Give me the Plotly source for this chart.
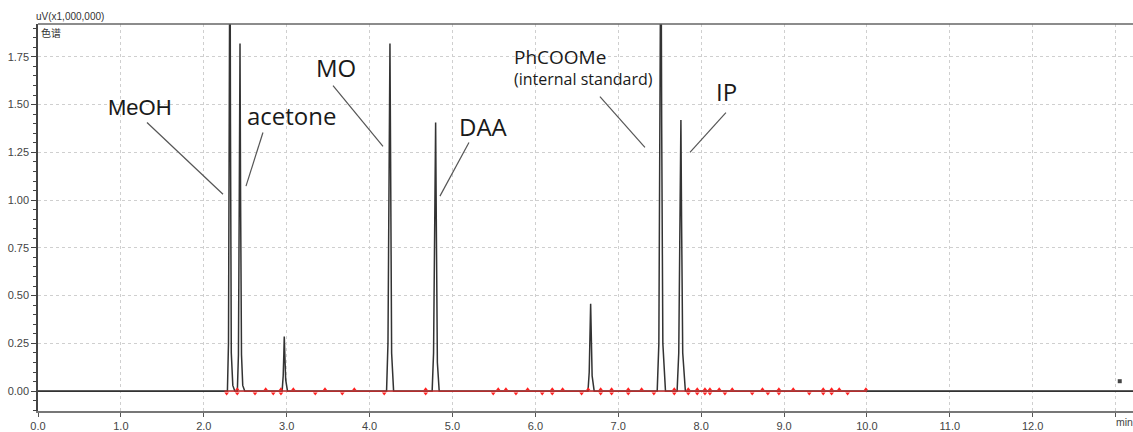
import plotly.graph_objects as go

# ---- data ----
time_min = [0.0,
            2.285, 2.298, 2.308, 2.316, 2.322, 2.332, 2.350, 2.375,
            2.405, 2.418, 2.428, 2.437, 2.444, 2.455, 2.470, 2.495,
            2.945, 2.958, 2.966, 2.971, 2.977, 2.988, 3.010,
            4.205, 4.222, 4.236, 4.246, 4.254, 4.266, 4.290,
            4.755, 4.772, 4.787, 4.797, 4.805, 4.818, 4.840,
            6.635, 6.650, 6.660, 6.667, 6.673, 6.685, 6.710,
            7.470, 7.490, 7.505, 7.515, 7.524, 7.538, 7.570,
            7.710, 7.730, 7.746, 7.756, 7.764, 7.778, 7.810,
            13.21]
signal = [0.0,
          0.0, 0.25, 1.5, 2.6, 1.4, 0.2, 0.03, 0.0,
          0.0, 0.19, 1.0, 1.82, 1.0, 0.19, 0.03, 0.0,
          0.0, 0.08, 0.2, 0.286, 0.2, 0.06, 0.0,
          0.0, 0.25, 1.2, 1.82, 1.2, 0.2, 0.0,
          0.0, 0.2, 0.9, 1.406, 0.9, 0.15, 0.0,
          0.0, 0.1, 0.35, 0.458, 0.33, 0.08, 0.0,
          0.0, 0.25, 1.4, 2.6, 1.4, 0.25, 0.0,
          0.0, 0.2, 0.9, 1.42, 0.9, 0.2, 0.0,
          0.0]

baseline_start = 2.25
baseline_end = 10.0

marks_below = [2.276, 2.404, 2.618, 2.838, 2.931, 3.345, 3.671, 4.177, 4.677,
               5.492, 5.766, 6.083, 6.204, 6.558, 6.788, 6.920, 7.121, 7.430,
               7.676, 7.845, 7.953, 8.046, 8.106, 8.287, 8.616, 8.805, 8.938,
               9.304, 9.473, 9.574, 9.767]
marks_above = [2.404, 2.747, 2.931, 3.080, 3.462, 3.816, 4.677, 5.552, 5.645,
               5.907, 6.204, 6.329, 6.638, 6.788, 6.920, 7.121, 7.282, 7.676,
               7.845, 7.953, 8.046, 8.106, 8.218, 8.375, 8.740, 8.938, 9.111,
               9.473, 9.574, 9.666, 9.988]

x_ticks = [0, 1, 2, 3, 4, 5, 6, 7, 8, 9, 10, 11, 12, 13]
x_ticktext = ["0.0", "1.0", "2.0", "3.0", "4.0", "5.0", "6.0", "7.0",
              "8.0", "9.0", "10.0", "11.0", "12.0", ""]

labels = ["MeOH", "acetone", "MO", "DAA", "IP"]
label_t = [1.23, 3.06, 3.59, 5.37, 8.30]
label_v = [1.484, 1.443, 1.693, 1.385, 1.568]
label_size = [22, 24, 24, 24, 24]

std_label_top = "PhCOOMe"
std_label_bottom = "(internal standard)"
std_label_t = 5.72
std_label_v = 1.695

leader_t0 = [1.315, 2.714, 3.559, 5.199, 6.779, 8.299]
leader_v0 = [1.406, 1.354, 1.599, 1.302, 1.542, 1.458]
leader_t1 = [2.232, 2.509, 4.162, 4.849, 7.322, 7.865]
leader_v1 = [1.031, 1.073, 1.281, 1.021, 1.276, 1.250]

fig = go.Figure()

fig.add_trace(go.Scatter(x=time_min, y=signal, mode="lines",
                         line=dict(color="#333", width=1.5),
                         hoverinfo="skip", showlegend=False))
fig.add_trace(go.Scatter(x=[baseline_start, baseline_end], y=[0, 0], mode="lines",
                         line=dict(color="#ff2a2a", width=1),
                         hoverinfo="skip", showlegend=False))
fig.add_trace(go.Scatter(x=marks_below, y=[-0.013] * len(marks_below), mode="markers",
                         marker=dict(symbol="triangle-down", size=4, color="#ff2020"),
                         hoverinfo="skip", showlegend=False))
fig.add_trace(go.Scatter(x=marks_above, y=[0.01] * len(marks_above), mode="markers",
                         marker=dict(symbol="triangle-up", size=4, color="#ff2020"),
                         hoverinfo="skip", showlegend=False))
fig.add_trace(go.Scatter(x=[13.05], y=[0.052], mode="markers",
                         marker=dict(symbol="square", size=4, color="#444"),
                         hoverinfo="skip", showlegend=False, cliponaxis=False))

for i in range(len(leader_t0)):
    fig.add_shape(type="line", x0=leader_t0[i], y0=leader_v0[i],
                  x1=leader_t1[i], y1=leader_v1[i],
                  line=dict(color="#555", width=1.2))

for i, txt in enumerate(labels):
    fam = "Liberation Sans" if txt == "MeOH" else "Open Sans"
    fig.add_annotation(x=label_t[i], y=label_v[i], text=txt, showarrow=False,
                       xanchor="center", yanchor="middle",
                       font=dict(family=fam, size=label_size[i], color="#1a1a1a"))

fig.add_annotation(x=std_label_t, y=std_label_v,
                   text='<span style="font-size:19px">' + std_label_top + "</span><br>"
                        + std_label_bottom,
                   showarrow=False, xanchor="left", yanchor="middle", align="left",
                   font=dict(family="Open Sans", size=16, color="#1a1a1a"))

# top border
fig.add_shape(type="line", xref="paper", yref="paper", x0=0, x1=1, y0=1, y1=1,
              line=dict(color="#666", width=1.5))

fig.add_annotation(xref="paper", yref="paper", x=0, y=1, xanchor="left", yanchor="bottom",
                   xshift=-4, yshift=0, text="uV(x1,000,000)", showarrow=False,
                   font=dict(family="Liberation Sans", size=10, color="#333"))
fig.add_annotation(xref="paper", yref="paper", x=0, y=1, xanchor="left", yanchor="top",
                   xshift=1, yshift=1, text="色谱", showarrow=False,
                   font=dict(family="Noto Sans CJK SC", size=10, color="#333"))
fig.add_annotation(xref="x", yref="paper", x=13.0, y=0, xanchor="left", yanchor="top",
                   xshift=-2, yshift=-3, text="min", showarrow=False,
                   font=dict(family="Liberation Sans", size=10.5, color="#444"))

fig.update_layout(
    width=1133, height=432,
    margin=dict(l=38, r=0, t=24, b=19),
    paper_bgcolor="white", plot_bgcolor="white",
    xaxis=dict(range=[0, 13.21], tickmode="array", tickvals=x_ticks, ticktext=x_ticktext,
               showgrid=True, gridcolor="#cfcfcf", griddash="dot", gridwidth=1,
               showline=True, linecolor="#777", linewidth=2,
               ticks="outside", ticklen=4, tickcolor="#555",
               zeroline=False,
               tickfont=dict(family="Liberation Sans", size=11, color="#444")),
    yaxis=dict(range=[-0.104, 1.922], tick0=0, dtick=0.25, tickformat=".2f",
               showgrid=True, gridcolor="#cfcfcf", griddash="dot", gridwidth=1,
               showline=True, linecolor="#444", linewidth=1.5,
               ticks="outside", ticklen=5, tickcolor="#444",
               minor=dict(tick0=0, dtick=0.05, ticks="outside", ticklen=3,
                          tickcolor="#444", showgrid=False),
               zeroline=True, zerolinecolor="#888", zerolinewidth=2,
               tickfont=dict(family="Liberation Sans", size=11, color="#444")),
)

fig.write_html("out.html")
